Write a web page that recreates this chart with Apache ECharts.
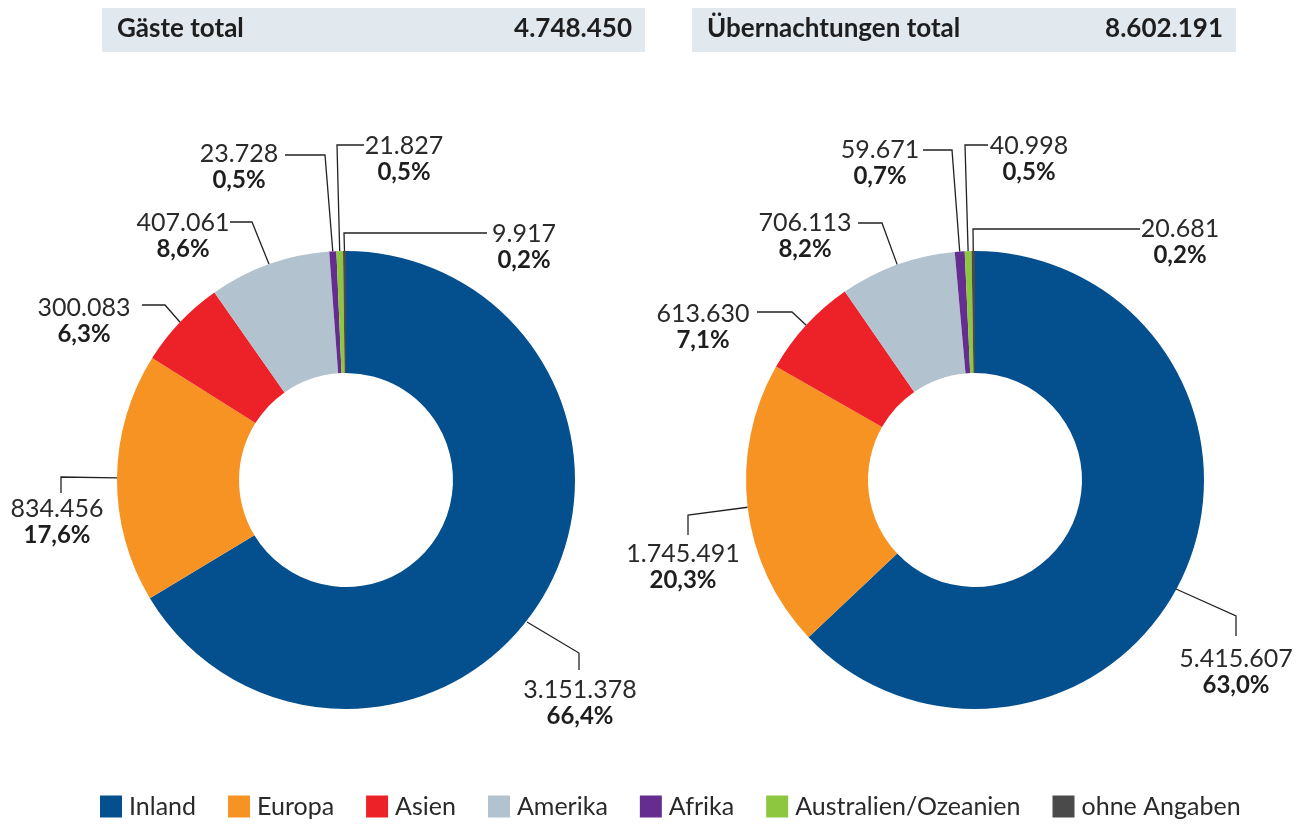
<!DOCTYPE html>
<html>
<head>
<meta charset="utf-8">
<script src="https://cdn.jsdelivr.net/npm/echarts@6/dist/echarts.min.js"></script>
<style>
    html, body { margin: 0; padding: 0; background: #fff; }
    #main { width: 1307px; height: 825px; }
</style>
</head>
<body>
<div id="main"></div>
<script>
    // Kategorien und Werte
    var categories = ['Inland', 'Europa', 'Asien', 'Amerika', 'Afrika', 'Australien/Ozeanien', 'ohne Angaben'];
    var colors = ['#04508f', '#f69322', '#ed2229', '#b2c3cf', '#662d91', '#8dc63f', '#4a4a4a'];
    var gaeste = [3151378, 834456, 300083, 407061, 23728, 21827, 9917];
    var uebernachtungen = [5415607, 1745491, 613630, 706113, 59671, 40998, 20681];

    // Beschriftungen: Textmitte, (Start-), Knick- und Endpunkt der Linie
    var leftLabels = [
        {pos: [580, 703], start: [527, 622], knee: [579, 653], end: [579, 670]},
        {pos: [57, 522], knee: [61, 477], end: [61, 493]},
        {pos: [84, 321], knee: [165, 305], end: [142, 305]},
        {pos: [183, 236], knee: [252, 222], end: [230, 222]},
        {pos: [239, 167], knee: [325, 155], end: [285, 155]},
        {pos: [404, 159], knee: [337, 145], end: [364, 145]},
        {pos: [524, 247], knee: [344, 233], end: [487, 233]}
    ];
    var rightLabels = [
        {pos: [1236, 672], start: [1176, 589], knee: [1236, 616], end: [1236, 636]},
        {pos: [683, 567], knee: [688, 515], end: [688, 535]},
        {pos: [703, 327], knee: [792, 312], end: [757, 312]},
        {pos: [805, 236], knee: [882, 223], end: [858, 223]},
        {pos: [880, 163], knee: [952, 150], end: [923, 150]},
        {pos: [1029, 159], knee: [965, 145], end: [988, 145]},
        {pos: [1180, 242], knee: [973, 229], end: [1140, 229]}
    ];

    function fmt(n) {
        return String(n).replace(/\B(?=(\d{3})+(?!\d))/g, '.');
    }
    function sum(arr) {
        return arr.reduce(function (a, b) { return a + b; }, 0);
    }

    var FONT = 'Lato, "Noto Sans", sans-serif';

    function buildSeries(values, center, labels) {
        var total = sum(values);
        return {
            type: 'pie',
            radius: [107, 229],
            center: center,
            startAngle: 90,
            clockwise: true,
            avoidLabelOverlap: false,
            silent: true,
            data: categories.map(function (c, i) {
                return {name: c, value: values[i], itemStyle: {color: colors[i]}};
            }),
            label: {
                show: true,
                position: 'outside',
                formatter: function (p) {
                    var pct = (p.value / total * 100).toFixed(1).replace('.', ',');
                    return '{v|' + fmt(p.value) + '}\n{p|' + pct + '%}';
                },
                rich: {
                    v: {fontFamily: FONT, fontSize: 25, color: '#2a2a2a', lineHeight: 27, align: 'center'},
                    p: {fontFamily: FONT, fontSize: 24, fontWeight: 'bold', color: '#1e1e1e', lineHeight: 27, align: 'center'}
                }
            },
            labelLine: {
                show: true,
                length: 10,
                length2: 10,
                lineStyle: {color: '#222', width: 1.3}
            },
            labelLayout: function (params) {
                var s = labels[params.dataIndex];
                var p0 = s.start || (params.labelLinePoints ? params.labelLinePoints[0] : s.knee);
                return {
                    x: s.pos[0],
                    y: s.pos[1],
                    align: 'center',
                    verticalAlign: 'middle',
                    labelLinePoints: [p0, s.knee, s.end]
                };
            }
        };
    }

    function header(x, w, title, total) {
        return [
            {type: 'rect', left: x, top: 8, shape: {width: w, height: 44}, style: {fill: '#e1e8ee'}, silent: true},
            {type: 'text', left: x + 15, top: 16, style: {text: title, font: 'bold 26px ' + FONT, fill: '#1e1e1e'}},
            {type: 'text', right: 1307 - (x + w - 13), top: 16, style: {text: fmt(total), font: 'bold 26px ' + FONT, fill: '#1e1e1e', textAlign: 'right'}}
        ];
    }

    var myChart = echarts.init(document.getElementById('main'));
    myChart.setOption({
        animation: false,
        backgroundColor: '#fff',
        graphic: header(102, 543, 'Gäste total', sum(gaeste)).concat(
            header(692, 544, 'Übernachtungen total', sum(uebernachtungen))
        ),
        legend: {
            data: categories,
            left: 100,
            top: 794,
            padding: 0,
            icon: 'rect',
            itemWidth: 22,
            itemHeight: 22,
            itemGap: 32,
            selectedMode: false,
            textStyle: {fontFamily: FONT, fontSize: 25, color: '#2a2a2a', padding: [0, 0, 0, 2]}
        },
        series: [
            buildSeries(gaeste, [346, 480], leftLabels),
            buildSeries(uebernachtungen, [975, 480], rightLabels)
        ]
    });
</script>
</body>
</html>
